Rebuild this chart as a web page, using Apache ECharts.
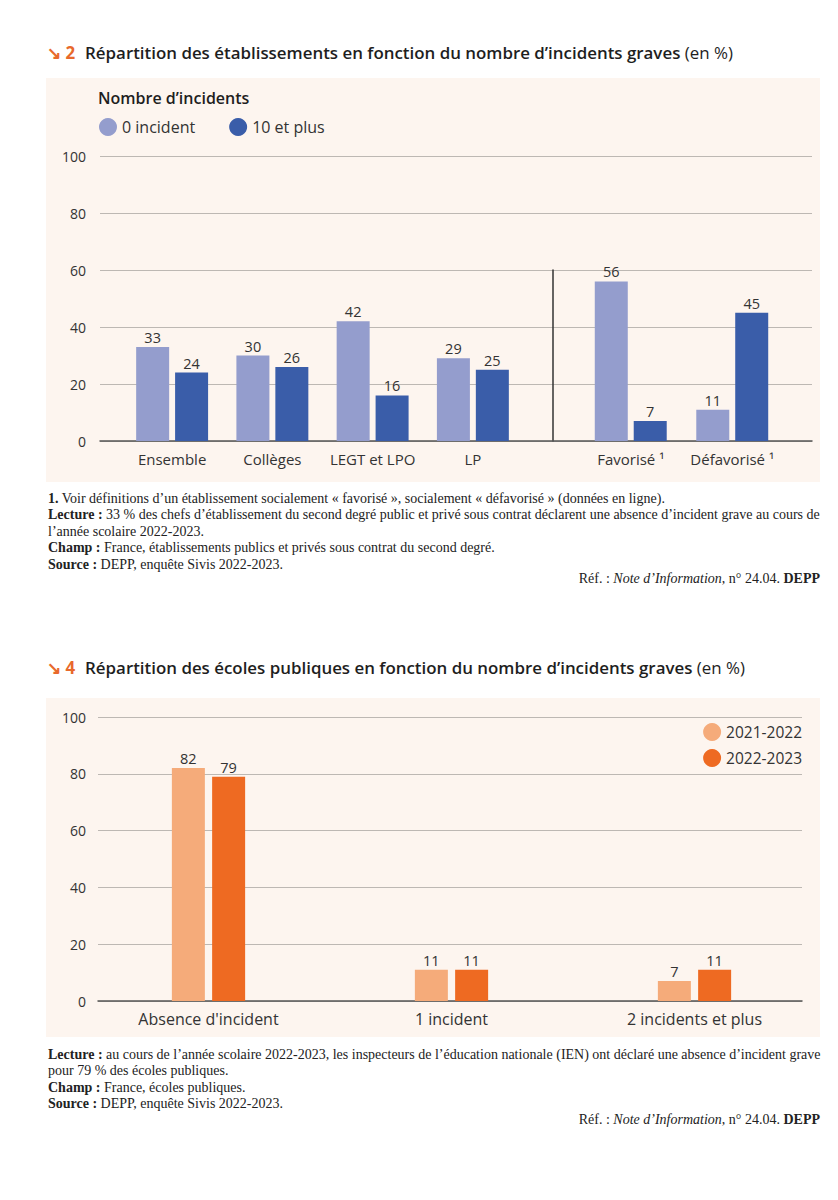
<!DOCTYPE html>
<html><head><meta charset="utf-8">
<script src="https://cdn.jsdelivr.net/npm/echarts@6/dist/echarts.min.js"></script>
<style>html,body{margin:0;padding:0;background:#fff}#c{width:838px;height:1200px}</style>
</head><body><div id="c"></div>
<script>
// ---- Data ----
const cats1Left = ['Ensemble', 'Collèges', 'LEGT et LPO', 'LP'];
const cats1Right = ['Favorisé ¹', 'Défavorisé ¹'];
const zeroIncidentLeft = [33, 30, 42, 29];
const tenPlusLeft = [24, 26, 16, 25];
const zeroIncidentRight = [56, 11];
const tenPlusRight = [7, 45];
const cats2 = ["Absence d'incident", '1 incident', '2 incidents et plus'];
const year2122 = [82, 11, 7];
const year2223 = [79, 11, 11];
const yMin = 0, yMax = 100, yStep = 20;

const FONT = '"Open Sans", sans-serif';
const SERIF = '"Liberation Serif", serif';
const C_LIGHT = '#949dcd', C_DARK = '#3a5da9';
const O_LIGHT = '#f5ab7a', O_DARK = '#ee6a22';
const PANEL = '#fdf5ef';
const GRIDC = '#bdb8b3';
const TXT = '#333333';

const chart = echarts.init(document.getElementById('c'), null, {renderer: 'svg'});

const hiddenX = (gi) => ({type: 'value', gridIndex: gi, show: false});
const hiddenY = (gi) => ({type: 'value', gridIndex: gi, min: yMin, max: yMax, show: false});
const barLabel = {show: true, position: 'top', distance: 2, color: TXT, fontFamily: FONT, fontSize: 14.5};

const FS = 14, LH = 16.5;
const foot = {fontFamily: SERIF, fontSize: FS, fontWeight: 'normal', color: '#222', lineHeight: LH};
const footRich = {b: {fontFamily: SERIF, fontSize: FS, fontWeight: 'bold', color: '#222', lineHeight: LH},
                  i: {fontFamily: SERIF, fontSize: FS, fontWeight: 'normal', fontStyle: 'italic', color: '#222', lineHeight: LH}};
const TFS = 16.9;
const titleRich = {
  a: {fontFamily: FONT, fontSize: TFS, fontWeight: 'bold', color: '#e8692c'},
  b: {fontFamily: FONT, fontSize: TFS, fontWeight: 600, color: '#1e1e1e'},
  c: {fontFamily: FONT, fontSize: TFS, fontWeight: 'normal', color: '#1e1e1e'}
};
const catLabel = (fs) => ({color: TXT, fontFamily: FONT, fontSize: fs, margin: 10, interval: 0});
const footStyle = Object.assign({}, foot, {rich: footRich});

const option = {
  animation: false,
  backgroundColor: '#ffffff',
  graphic: [
    {type: 'rect', shape: {x: 46, y: 78, width: 774, height: 404}, style: {fill: PANEL}, z: -10},
    {type: 'rect', shape: {x: 46, y: 698, width: 774, height: 339}, style: {fill: PANEL}, z: -10}
  ],
  title: [
    {left: 47, top: 43, padding: 0, text: '{a|↘ 2}  {b|Répartition des établissements en fonction du nombre d’incidents graves}{c| (en %)}', textStyle: {rich: titleRich}},
    {left: 98, top: 90, padding: 0, text: 'Nombre d’incidents', textStyle: {fontFamily: FONT, fontSize: 16, fontWeight: 600, color: '#1e1e1e'}},
    {left: 48, top: 490, padding: 0, text:
      '{b|1.} Voir définitions d’un établissement socialement « favorisé », socialement « défavorisé » (données en ligne).\n' +
      '{b|Lecture :} 33 % des chefs d’établissement du second degré public et privé sous contrat déclarent une absence d’incident grave au cours de\n' +
      'l’année scolaire 2022-2023.\n' +
      '{b|Champ :} France, établissements publics et privés sous contrat du second degré.\n' +
      '{b|Source :} DEPP, enquête Sivis 2022-2023.',
      textStyle: footStyle},
    {right: 18, top: 570, padding: 0, text: 'Réf. : {i|Note d’Information}, n° 24.04. {b|DEPP}', textStyle: footStyle},

    {left: 47, top: 658, padding: 0, text: '{a|↘ 4}  {b|Répartition des écoles publiques en fonction du nombre d’incidents graves}{c| (en %)}', textStyle: {rich: titleRich}},
    {left: 48, top: 1046, padding: 0, text:
      '{b|Lecture :} au cours de l’année scolaire 2022-2023, les inspecteurs de l’éducation nationale (IEN) ont déclaré une absence d’incident grave\n' +
      'pour 79 % des écoles publiques.\n' +
      '{b|Champ :} France, écoles publiques.\n' +
      '{b|Source :} DEPP, enquête Sivis 2022-2023.',
      textStyle: footStyle},
    {right: 18, top: 1111, padding: 0, text: 'Réf. : {i|Note d’Information}, n° 24.04. {b|DEPP}', textStyle: footStyle}
  ],
  legend: [
    {left: 99, top: 118, padding: 0, itemWidth: 18, itemHeight: 18, itemGap: 34, icon: 'circle',
     data: ['0 incident', '10 et plus'], textStyle: {fontFamily: FONT, fontSize: 16, color: TXT}},
    {right: 36, top: 723, padding: 0, orient: 'vertical', itemWidth: 18, itemHeight: 18, itemGap: 8, icon: 'circle',
     data: ['2021-2022', '2022-2023'], textStyle: {fontFamily: FONT, fontSize: 15.5, color: TXT}}
  ],
  grid: [
    {left: 100, top: 156, width: 712, height: 285},   // 0 chart1 axes
    {left: 122, top: 156, width: 401, height: 285},   // 1 chart1 left bars
    {left: 580, top: 156, width: 203, height: 285},   // 2 chart1 right bars
    {left: 553, top: 270, width: 10, height: 171},    // 3 separator
    {left: 98, top: 717, width: 704, height: 284},    // 4 chart2 axes
    {left: 87, top: 717, width: 729, height: 284}     // 5 chart2 bars
  ],
  xAxis: [
    {type: 'value', gridIndex: 0, min: 0, max: 1, position: 'bottom',
     axisLine: {show: true, onZero: false, lineStyle: {color: '#555', width: 1.5}},
     axisTick: {show: false}, axisLabel: {show: false}, splitLine: {show: false}},
    {type: 'category', gridIndex: 1, data: cats1Left, axisLine: {show: false}, axisTick: {show: false},
     axisLabel: catLabel(15)},
    {type: 'category', gridIndex: 2, data: cats1Right, axisLine: {show: false}, axisTick: {show: false},
     axisLabel: catLabel(15)},
    hiddenX(3),
    {type: 'value', gridIndex: 4, min: 0, max: 1, position: 'bottom',
     axisLine: {show: true, onZero: false, lineStyle: {color: '#555', width: 1.5}},
     axisTick: {show: false}, axisLabel: {show: false}, splitLine: {show: false}},
    {type: 'category', gridIndex: 5, data: cats2, axisLine: {show: false}, axisTick: {show: false},
     axisLabel: catLabel(16)}
  ],
  yAxis: [
    {type: 'value', gridIndex: 0, min: yMin, max: yMax, interval: yStep,
     axisLine: {show: false}, axisTick: {show: false},
     axisLabel: {color: TXT, fontFamily: FONT, fontSize: 14, margin: 14},
     splitLine: {lineStyle: {color: GRIDC, width: 1}}},
    hiddenY(1), hiddenY(2),
    {type: 'value', gridIndex: 3, min: 0, max: 1, position: 'left',
     axisLine: {show: true, lineStyle: {color: '#333', width: 1.5}},
     axisTick: {show: false}, axisLabel: {show: false}, splitLine: {show: false}},
    {type: 'value', gridIndex: 4, min: yMin, max: yMax, interval: yStep,
     axisLine: {show: false}, axisTick: {show: false},
     axisLabel: {color: TXT, fontFamily: FONT, fontSize: 14, margin: 12},
     splitLine: {lineStyle: {color: GRIDC, width: 1}}},
    hiddenY(5)
  ],
  series: [
    {name: '0 incident', type: 'bar', xAxisIndex: 1, yAxisIndex: 1, data: zeroIncidentLeft,
     barWidth: 33, barGap: '18%', itemStyle: {color: C_LIGHT}, label: barLabel},
    {name: '10 et plus', type: 'bar', xAxisIndex: 1, yAxisIndex: 1, data: tenPlusLeft,
     barWidth: 33, barGap: '18%', itemStyle: {color: C_DARK}, label: barLabel},
    {name: '0 incident', type: 'bar', xAxisIndex: 2, yAxisIndex: 2, data: zeroIncidentRight,
     barWidth: 33, barGap: '18%', itemStyle: {color: C_LIGHT}, label: barLabel},
    {name: '10 et plus', type: 'bar', xAxisIndex: 2, yAxisIndex: 2, data: tenPlusRight,
     barWidth: 33, barGap: '18%', itemStyle: {color: C_DARK}, label: barLabel},
    {name: '2021-2022', type: 'bar', xAxisIndex: 5, yAxisIndex: 5, data: year2122,
     barWidth: 33, barGap: '22%', itemStyle: {color: O_LIGHT}, label: barLabel},
    {name: '2022-2023', type: 'bar', xAxisIndex: 5, yAxisIndex: 5, data: year2223,
     barWidth: 33, barGap: '22%', itemStyle: {color: O_DARK}, label: barLabel}
  ]
};
chart.setOption(option);
</script></body></html>
